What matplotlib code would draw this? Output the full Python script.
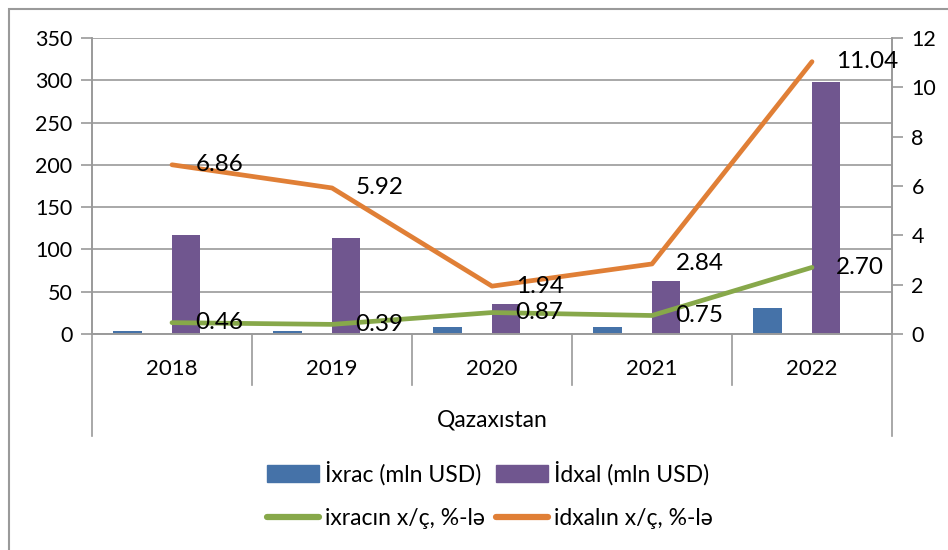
import numpy as np
import matplotlib
matplotlib.use('Agg')
import matplotlib.pyplot as plt
from matplotlib.lines import Line2D
from matplotlib.patches import Patch, Rectangle
import matplotlib.transforms as mtransforms

plt.rcParams['font.family'] = ['Lato', 'DejaVu Sans']

# data
years = ['2018', '2019', '2020', '2021', '2022']
group_label = 'Qazaxıstan'
ixrac = [3.5, 3.0, 8.0, 8.0, 30.5]          # mln USD
idxal = [117.0, 114.0, 36.0, 63.0, 298.0]   # mln USD
ixrac_share = [0.46, 0.39, 0.87, 0.75, 2.70]
idxal_share = [6.86, 5.92, 1.94, 2.84, 11.04]
left_ticks = [0, 50, 100, 150, 200, 250, 300, 350]
right_ticks = [0, 2, 4, 6, 8, 10, 12]

c_blue = '#4572A8'
c_purple = '#70568F'
c_green = '#87A84A'
c_orange = '#E07F36'
c_axis = '#9A9A9A'

W, H = 948, 550
fig = plt.figure(figsize=(W / 100, H / 100), dpi=100)
ax = fig.add_axes([92 / W, 1 - 334 / H, 800 / W, 296 / H])
ax2 = ax.twinx()

x = np.arange(len(years)) + 0.5
bw = 0.18
ax.bar(x - 0.278, ixrac, bw, color=c_blue, zorder=2)
ax.bar(x + 0.087, idxal, bw, color=c_purple, zorder=2)

ax.set_xlim(0, 5)
ax.set_ylim(0, 350)
ax.set_yticks(left_ticks)
ax.set_xticks([])
ax.grid(axis='y', color=c_axis, linewidth=1.2, zorder=0)
ax.set_axisbelow(True)
ax.tick_params(axis='y', length=8, width=1.2, color=c_axis, labelsize=15.5, pad=6)

ax2.plot(x, ixrac_share, color=c_green, linewidth=3.4, solid_capstyle='round', zorder=3)
ax2.plot(x, idxal_share, color=c_orange, linewidth=3.4, solid_capstyle='round', zorder=3)
ax2.set_ylim(0, 12)
ax2.set_yticks(right_ticks)
ax2.tick_params(axis='y', length=8, width=1.2, color=c_axis, labelsize=15.5, pad=6)

for xi, v in zip(x, ixrac_share):
    ax2.annotate(f'{v:.2f}', (xi, v), xytext=(17, 0), textcoords='offset points',
                 va='center', ha='left', fontsize=17.5, zorder=5)
for xi, v in zip(x, idxal_share):
    ax2.annotate(f'{v:.2f}', (xi, v), xytext=(17, 0), textcoords='offset points',
                 va='center', ha='left', fontsize=17.5, zorder=5)

for a in (ax, ax2):
    a.spines['top'].set_visible(False)
    for s in ('left', 'right', 'bottom'):
        a.spines[s].set_color(c_axis)
        a.spines[s].set_linewidth(1.2)

# two-level category axis
trans = mtransforms.blended_transform_factory(ax.transData, ax.transAxes)
for i in range(len(years) + 1):
    bottom = -0.345 if i in (0, len(years)) else -0.172
    ax.plot([i, i], [0, bottom], transform=trans, color=c_axis,
            linewidth=1.2, clip_on=False)
for xi, y in zip(x, years):
    ax.text(xi, -0.118, y, transform=trans, ha='center', va='center', fontsize=16)
ax.text(2.5, -0.29, group_label, transform=trans, ha='center', va='center', fontsize=16.5)

handles = [Patch(color=c_blue), Line2D([], [], color=c_green, linewidth=4.5, solid_capstyle='round'),
           Patch(color=c_purple), Line2D([], [], color=c_orange, linewidth=4.5, solid_capstyle='round')]
labels = ['İxrac (mln USD)', 'ixracın x/ç, %-lə', 'İdxal (mln USD)', 'idxalın x/ç, %-lə']
fig.legend(handles, labels, ncol=2, loc='center', bbox_to_anchor=(490 / W, 1 - 495 / H),
           frameon=False, fontsize=16.5, handlelength=2.3, handleheight=0.8,
           handletextpad=0.26, columnspacing=0.45, labelspacing=1.0)

# outer chart border
fig.patches.append(Rectangle((8.5 / W, -0.1), 1.2, 1.1 - 9 / H, transform=fig.transFigure,
                             fill=False, edgecolor=c_axis, linewidth=1.5))

fig.savefig('out.png', dpi=100)
